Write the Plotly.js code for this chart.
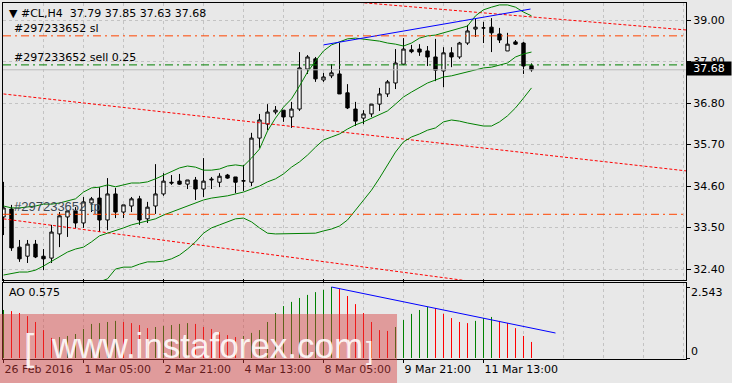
<!DOCTYPE html>
<html>
<head>
<meta charset="utf-8">
<script src="https://cdn.plot.ly/plotly-3.0.1.min.js"></script>
<style>html,body{margin:0;padding:0;background:#e8e8e8;}#chart{width:732px;height:383px;}</style>
</head>
<body>
<div id="chart"></div>
<script>
// ---- Data (#CL, H4) ----
const symbol = "#CL,H4";
const openP  = [33.78,33.99,32.98,32.74,33.06,32.74,32.69,33.33,33.78,33.94,
                33.62,34.15,34.28,33.70,34.39,33.91,34.07,34.26,33.73,34.07,
                34.39,34.70,34.73,34.65,34.76,34.52,34.76,34.70,34.89,34.84,
                34.73,34.70,35.87,36.24,36.56,36.61,36.43,36.64,37.70,37.97,
                37.41,37.52,37.57,37.07,36.64,36.40,36.51,36.77,37.04,37.33,
                37.83,38.21,38.23,38.18,38.02,37.65,38.13,38.02,38.39,38.76,
                38.79,38.81,38.63,38.18,38.42,38.39,37.79];
const highP  = [34.71,34.10,33.17,33.17,33.17,32.93,33.57,33.91,33.94,34.04,
                34.31,34.31,34.57,34.81,34.55,34.10,34.31,34.34,34.18,35.18,
                34.94,34.89,34.92,34.76,34.84,35.34,34.84,34.94,34.92,34.84,
                35.16,36.01,36.51,36.77,36.72,36.61,36.83,38.15,38.07,38.02,
                37.60,37.83,38.39,37.30,36.83,36.61,36.77,37.20,37.41,38.23,
                38.52,38.34,38.36,38.31,38.50,38.28,38.28,38.42,38.87,39.03,
                38.95,39.05,38.79,38.66,38.47,38.42,37.85];
const lowP   = [33.30,32.88,32.59,32.56,32.69,32.37,32.56,32.98,33.25,33.49,
                33.49,33.91,33.38,33.43,33.75,33.75,33.91,33.57,33.62,33.86,
                34.34,34.63,34.63,34.52,34.23,34.31,34.52,34.57,34.79,34.41,
                34.47,34.60,35.61,36.08,36.50,36.30,36.14,36.59,37.57,37.36,
                37.36,37.46,37.04,36.64,36.19,36.24,36.43,36.59,36.96,37.17,
                37.81,38.12,38.05,37.78,37.38,37.22,37.75,37.97,38.34,38.55,
                38.39,38.15,38.39,38.18,38.34,37.57,37.63];
const closeP = [34.02,32.96,32.67,33.06,32.72,32.67,33.38,33.81,33.94,33.62,
                34.18,34.26,33.70,34.39,33.91,34.10,34.26,33.70,34.04,34.39,
                34.73,34.68,34.65,34.76,34.52,34.73,34.78,34.86,34.81,34.70,
                34.74,35.87,36.35,36.56,36.61,36.43,36.64,37.73,38.02,37.44,
                37.49,37.60,37.04,36.67,36.32,36.51,36.77,37.04,37.36,37.86,
                38.23,38.16,38.15,38.02,37.67,38.13,38.02,38.39,38.71,38.81,
                38.79,38.66,38.47,38.36,38.36,37.78,37.68];

// Bollinger bands
const bbUpper = [34.07,34.02,34.02,34.04,34.07,34.12,34.12,34.15,34.20,34.26,
                 34.44,34.55,34.57,34.63,34.58,34.63,34.68,34.68,34.71,34.79,
                 34.89,35.00,35.08,35.13,35.10,35.02,35.02,35.05,35.13,35.16,
                 35.13,35.34,35.58,36.06,36.40,36.69,36.91,37.25,37.62,37.91,
                 38.18,38.34,38.42,38.50,38.52,38.50,38.47,38.44,38.39,38.36,
                 38.31,38.39,38.52,38.58,38.60,38.66,38.71,38.76,38.84,39.11,
                 39.27,39.34,39.40,39.40,39.34,39.21,39.11];
const bbMid   = [32.24,32.29,32.32,32.32,32.37,32.48,32.61,32.72,32.85,32.93,
                 32.98,33.12,33.28,33.35,33.41,33.49,33.57,33.62,33.67,33.73,
                 33.83,33.91,33.99,34.07,34.15,34.23,34.28,34.31,34.34,34.39,
                 34.44,34.52,34.60,34.71,34.79,34.92,35.10,35.24,35.42,35.63,
                 35.82,35.90,35.98,36.11,36.22,36.30,36.40,36.48,36.59,36.77,
                 36.96,37.09,37.22,37.33,37.41,37.49,37.52,37.57,37.62,37.67,
                 37.73,37.75,37.81,37.86,38.02,38.10,38.15];
const bbLower = [31.58,31.58,31.61,31.63,31.66,31.68,31.74,31.79,31.84,31.90,
                 31.95,32.00,32.06,32.14,32.40,32.45,32.45,32.53,32.59,32.59,
                 32.61,32.67,32.77,32.93,33.12,33.35,33.49,33.57,33.65,33.73,
                 33.75,33.65,33.49,33.35,33.33,33.33,33.33,33.33,33.33,33.35,
                 33.41,33.46,33.54,33.70,33.96,34.23,34.49,34.81,35.16,35.50,
                 35.77,35.90,35.98,36.08,36.14,36.30,36.35,36.32,36.27,36.22,
                 36.19,36.19,36.30,36.46,36.67,36.93,37.20];

// Awesome Oscillator
const aoValues = [1.72,1.68,1.61,1.50,1.29,1.00,0.72,0.75,0.79,0.86,
                  1.04,1.22,1.25,1.29,1.33,1.29,1.25,1.18,1.07,1.11,
                  1.15,1.18,1.22,1.25,1.22,1.11,1.04,0.93,0.82,0.75,
                  0.79,0.90,1.00,1.29,1.61,1.86,2.01,2.15,2.26,2.36,
                  2.44,2.543,2.47,2.22,1.93,1.61,1.29,1.00,0.97,1.11,
                  1.36,1.58,1.72,1.83,1.79,1.58,1.43,1.29,1.25,1.33,
                  1.43,1.47,1.33,1.25,1.07,0.79,0.575];
const aoMaxLabel = 2.543;

// Order levels
const orderId = "#297233652";
const slLevel = 38.58;
const entryLevel = 37.81;
const tpLevel = 33.85;
const lotText = "sell 0.25";

// Drawn trend lines (bar index, value)
const chanTopX = [37, 85.375],  chanTopY = [39.60, 38.735];
const chanMidX = [0, 85.375],   chanMidY = [37.04, 35.00];
const chanLowX = [0, 85.375],   chanLowY = [33.73, 31.31];
const blueMainX = [40, 65.875], blueMainY = [38.34, 39.29];
const blueAoX = [41, 69],       blueAoY = [2.543, 0.895];

// Axis ticks
const priceTicks = [32.40, 33.50, 34.60, 35.70, 36.80, 37.90, 39.00];
const xTickIdx  = [0, 10, 20, 30, 40, 50, 60];
const xTickText = ["26 Feb 2016", "1 Mar 05:00", "2 Mar 21:00", "4 Mar 13:00", "8 Mar 05:00", "9 Mar 21:00", "11 Mar 13:00"];
const watermark = "www.instaforex.com";

// ---- Build ----
const idx = openP.map((_, i) => i);
const n = idx.length;
const last = n - 1;
const isUp = aoValues.map((v, i) => i === 0 || v > aoValues[i - 1]);
function stems(up) {
  const xs = [], ys = [];
  aoValues.forEach((v, i) => { if (isUp[i] === up) { xs.push(i, i, null); ys.push(0, v, null); } });
  return {xs, ys};
}
const aoUp = stems(true), aoDn = stems(false);
const minorGrid = [];
for (let k = 5; k <= 85; k += 5) if (!xTickIdx.includes(k)) minorGrid.push(k);

const FONT = 'DejaVu Sans, Verdana, sans-serif';
const GRID = '#c3c3c3';
const bandLine = {color: '#008000', width: 1};

const traces = [
  {type: 'scatter', mode: 'lines', x: chanTopX, y: chanTopY, line: {color: '#ff0000', width: 1, dash: '3px,2px'}, hoverinfo: 'skip'},
  {type: 'scatter', mode: 'lines', x: chanMidX, y: chanMidY, line: {color: '#ff0000', width: 1, dash: '3px,2px'}, hoverinfo: 'skip'},
  {type: 'scatter', mode: 'lines', x: chanLowX, y: chanLowY, line: {color: '#ff0000', width: 1, dash: '3px,2px'}, hoverinfo: 'skip'},
  {type: 'scatter', mode: 'lines', x: idx, y: bbUpper, line: bandLine, hoverinfo: 'skip'},
  {type: 'scatter', mode: 'lines', x: idx, y: bbMid, line: bandLine, hoverinfo: 'skip'},
  {type: 'scatter', mode: 'lines', x: idx, y: bbLower, line: bandLine, hoverinfo: 'skip'},
  {type: 'candlestick', x: idx, open: openP, high: highP, low: lowP, close: closeP,
   increasing: {line: {color: '#000000', width: 1}, fillcolor: '#ffffff'},
   decreasing: {line: {color: '#000000', width: 1}, fillcolor: '#000000'},
   whiskerwidth: 0, hoverinfo: 'skip'},
  {type: 'scatter', mode: 'lines', x: blueMainX, y: blueMainY, line: {color: '#0000ff', width: 1}, hoverinfo: 'skip'},
  {type: 'scatter', mode: 'lines', x: aoUp.xs, y: aoUp.ys, connectgaps: false, line: {color: '#008000', width: 1}, xaxis: 'x', yaxis: 'y2', hoverinfo: 'skip'},
  {type: 'scatter', mode: 'lines', x: aoDn.xs, y: aoDn.ys, connectgaps: false, line: {color: '#ff0000', width: 1}, xaxis: 'x', yaxis: 'y2', hoverinfo: 'skip'},
  {type: 'scatter', mode: 'lines', x: blueAoX, y: blueAoY, line: {color: '#0000ff', width: 1}, xaxis: 'x', yaxis: 'y2', hoverinfo: 'skip'}
];

const levelDash = '8px,4px,2px,4px';
const shapes = [
  {type: 'line', xref: 'paper', x0: 0, x1: 1, yref: 'y', y0: closeP[last], y1: closeP[last], line: {color: '#bdbdbd', width: 1}, layer: 'above'},
  {type: 'line', xref: 'paper', x0: 0, x1: 1, yref: 'y', y0: slLevel, y1: slLevel, line: {color: '#ff4500', width: 1, dash: levelDash}, layer: 'above'},
  {type: 'line', xref: 'paper', x0: 0, x1: 1, yref: 'y', y0: entryLevel, y1: entryLevel, line: {color: '#008000', width: 1, dash: levelDash}, layer: 'above'},
  {type: 'line', xref: 'paper', x0: 0, x1: 1, yref: 'y', y0: tpLevel, y1: tpLevel, line: {color: '#ff4500', width: 1, dash: levelDash}, layer: 'above'},
  // watermark band
  {type: 'rect', xref: 'paper', yref: 'paper', x0: -0.0044, x1: 0.5769, y0: -0.0674, y1: 0.1264,
   fillcolor: 'rgba(214,62,62,0.45)', line: {width: 0}, layer: 'above'}
];

const fmt = v => v.toFixed(2);
const WM = 'rgba(255,255,255,0.9)';
const annotations = [
  {xref: 'paper', yref: 'paper', x: 0.0059, y: 0.9719, xanchor: 'left', yanchor: 'middle', showarrow: false,
   text: '\u25BC\u00a0' + symbol + '\u00a0\u00a0' + [openP[last], highP[last], lowP[last], closeP[last]].map(fmt).join(' '),
   font: {family: FONT, size: 11, color: '#000'}},
  {xref: 'paper', yref: 'y', x: 0.0125, y: slLevel, xanchor: 'left', yanchor: 'bottom', showarrow: false, yshift: -1,
   text: orderId + ' sl', font: {family: FONT, size: 11, color: '#000'}},
  {xref: 'paper', yref: 'y', x: 0.0125, y: entryLevel, xanchor: 'left', yanchor: 'bottom', showarrow: false, yshift: -1,
   text: orderId + ' ' + lotText, font: {family: FONT, size: 11, color: '#000'}},
  {xref: 'paper', yref: 'y', x: 0.0125, y: tpLevel, xanchor: 'left', yanchor: 'bottom', showarrow: false, yshift: -2,
   text: orderId + ' tp', font: {family: 'Liberation Sans, Arial, sans-serif', size: 13, color: '#3c4854'}},
  {xref: 'paper', yref: 'y', x: 1, y: closeP[last], xanchor: 'left', yanchor: 'middle', showarrow: false, yshift: 1,
   text: fmt(closeP[last]), bgcolor: '#000000', borderpad: 1, width: 42, height: 11, align: 'center',
   font: {family: FONT, size: 11, color: '#ffffff'}},
  {xref: 'paper', yref: 'paper', x: 0.0059, y: 0.1854, xanchor: 'left', yanchor: 'middle', showarrow: false,
   text: 'AO ' + aoValues[last].toFixed(3), font: {family: FONT, size: 11, color: '#000'}},
  {xref: 'paper', yref: 'y2', x: 1, y: aoMaxLabel, xanchor: 'left', yanchor: 'middle', showarrow: false, xshift: 3, yshift: -5,
   text: String(aoMaxLabel), font: {family: FONT, size: 11, color: '#000'}},
  {xref: 'paper', yref: 'y2', x: 1, y: 0, xanchor: 'left', yanchor: 'middle', showarrow: false, xshift: 3, yshift: 7,
   text: '0', font: {family: FONT, size: 11, color: '#000'}},
  // watermark text
  {xref: 'paper', yref: 'paper', x: 0.2987, y: 0.0393, xanchor: 'center', yanchor: 'middle', showarrow: false,
   text: watermark, font: {family: 'Liberation Sans, Arial, sans-serif', size: 35, color: WM}},
  {xref: 'paper', yref: 'paper', x: 0.0381, y: 0.0337, xanchor: 'center', yanchor: 'middle', showarrow: false,
   text: '[', font: {family: 'Liberation Sans, sans-serif', size: 37, color: WM}},
  {xref: 'paper', yref: 'paper', x: 0.5373, y: 0.0225, xanchor: 'center', yanchor: 'middle', showarrow: false,
   text: ']', font: {family: 'Liberation Sans, sans-serif', size: 26, color: WM}}
];

const layout = {
  width: 732, height: 383,
  margin: {l: 3, r: 46, t: 3, b: 24, pad: 0},
  paper_bgcolor: '#e8e8e8', plot_bgcolor: '#e8e8e8',
  showlegend: false, boxgap: 0.4,
  font: {family: FONT, size: 11, color: '#000'},
  xaxis: {
    range: [-0.0625, 85.3125], anchor: 'y2', domain: [0, 1],
    rangeslider: {visible: false},
    tickmode: 'array', tickvals: xTickIdx, ticktext: xTickText,
    ticks: 'outside', ticklen: 3, tickcolor: '#000', tickwidth: 1,
    ticklabelposition: 'outside right',
    tickfont: {family: FONT, size: 11, color: '#000'},
    showgrid: true, gridcolor: GRID, griddash: '3px,3px', gridwidth: 1,
    minor: {tickmode: 'array', tickvals: minorGrid, showgrid: true, gridcolor: GRID, griddash: '3px,3px', ticks: ''},
    showline: true, mirror: 'all', linecolor: '#000', linewidth: 1, zeroline: false, fixedrange: true
  },
  yaxis: {
    domain: [0.2219, 1], anchor: 'x', range: [32.109, 39.4506], side: 'right',
    tickmode: 'array', tickvals: priceTicks, ticktext: priceTicks.map(fmt),
    ticks: 'outside', ticklen: 4, tickcolor: '#000',
    tickfont: {family: FONT, size: 11, color: '#000'},
    showgrid: true, gridcolor: GRID, griddash: '3px,3px',
    showline: true, mirror: true, linecolor: '#000', linewidth: 1, zeroline: false, fixedrange: true
  },
  yaxis2: {
    domain: [0, 0.2135], anchor: 'x', range: [-0.0358, 2.6865], side: 'right',
    tickmode: 'array', tickvals: [0, aoMaxLabel], ticktext: ['', ''],
    ticks: 'outside', ticklen: 3, tickcolor: '#000',
    showgrid: false, showline: true, mirror: true, linecolor: '#000', linewidth: 1, zeroline: false, fixedrange: true
  },
  shapes: shapes,
  annotations: annotations
};

Plotly.newPlot('chart', traces, layout, {staticPlot: true, displayModeBar: false});
</script>
</body>
</html>
